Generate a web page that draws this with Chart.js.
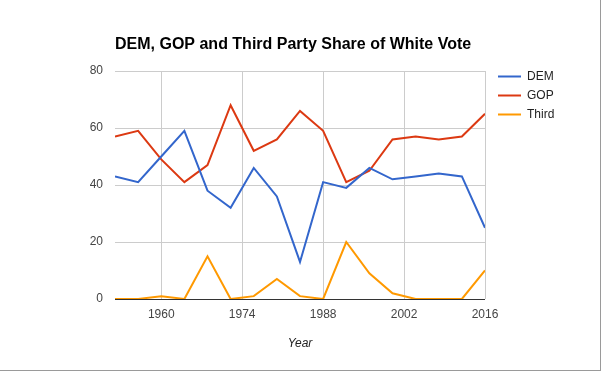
<!DOCTYPE html>
<html>
<head>
<meta charset="utf-8">
<script src="https://cdn.jsdelivr.net/npm/chart.js@4"></script>
<style>
  html, body { margin: 0; padding: 0; background: #fff; }
  #wrap { position: relative; width: 603px; height: 372px; overflow: hidden; }
  #frame { position: absolute; left: -2px; top: -2px; width: 602px; height: 372px; border-right: 1px solid #9a9a9a; border-bottom: 1px solid #9a9a9a; pointer-events: none; }
</style>
</head>
<body>
<div id="wrap">
  <canvas id="c" width="603" height="372"></canvas>
  <div id="frame"></div>
</div>
<script>
const chartTitle = "DEM, GOP and Third Party Share of White Vote";
const xAxisTitle = "Year";
const years = [1952, 1956, 1960, 1964, 1968, 1972, 1976, 1980, 1984, 1988, 1992, 1996, 2000, 2004, 2008, 2012, 2016];
const demValues = [43, 41, 50, 59, 38, 32, 46, 36, 13, 41, 39, 46, 42, 43, 44, 43, 25];
const gopValues = [57, 59, 49, 41, 47, 68, 52, 56, 66, 59, 41, 45, 56, 57, 56, 57, 65];
const thirdValues = [0, 0, 1, 0, 15, 0, 1, 7, 1, 0, 20, 9, 2, 0, 0, 0, 10];
const seriesNames = ["DEM", "GOP", "Third"];
const seriesColors = ["#3366cc", "#dc3912", "#ff9900"];
const xTickValues = [1960, 1974, 1988, 2002, 2016];
const yTickValues = [0, 20, 40, 60, 80];

const FONT = "'Liberation Sans', Arial, sans-serif";

function toPoints(vals) { return years.map((y, i) => ({ x: y, y: vals[i] })); }
const seriesValues = [demValues, gopValues, thirdValues];

const customDecor = {
  id: 'customDecor',
  afterDraw(chart) {
    const ctx = chart.ctx;
    const area = chart.chartArea;
    ctx.save();
    // title
    ctx.font = "bold 16px " + FONT;
    ctx.fillStyle = "#000";
    ctx.textBaseline = "middle";
    ctx.textAlign = "left";
    ctx.fillText(chartTitle, area.left, 45);
    // legend
    ctx.font = "12px " + FONT;
    ctx.fillStyle = "#222";
    chart.data.datasets.forEach((ds, i) => {
      const y = 76.5 + i * 19;
      ctx.strokeStyle = ds.borderColor;
      ctx.lineWidth = 2;
      ctx.beginPath();
      ctx.moveTo(498, y);
      ctx.lineTo(521, y);
      ctx.stroke();
      ctx.fillText(ds.label, 527, y);
    });
    ctx.restore();
  }
};

new Chart(document.getElementById('c'), {
  type: 'line',
  data: {
    datasets: seriesNames.map((n, i) => ({
      label: n,
      data: toPoints(seriesValues[i]),
      borderColor: seriesColors[i],
      backgroundColor: seriesColors[i],
      borderWidth: 2,
      pointRadius: 0,
      tension: 0,
      fill: false
    }))
  },
  options: {
    responsive: false,
    animation: false,
    devicePixelRatio: 1,
    layout: { padding: { left: 0, top: 71, right: 118, bottom: 0 } },
    plugins: {
      legend: { display: false },
      title: { display: false },
      tooltip: { enabled: false }
    },
    scales: {
      x: {
        type: 'linear',
        min: years[0],
        max: years[years.length - 1],
        afterBuildTicks: s => { s.ticks = xTickValues.map(v => ({ value: v })); },
        afterFit: s => { s.height = 73; },
        grid: { color: '#cccccc', drawTicks: false, lineWidth: 1 },
        border: { display: false },
        ticks: {
          padding: 8,
          color: '#444',
          font: { family: FONT, size: 12 },
          maxRotation: 0,
          autoSkip: false,
          callback: v => String(v)
        },
        title: {
          display: true,
          text: xAxisTitle,
          color: '#222',
          font: { family: FONT, size: 12, style: 'italic' },
          padding: { top: 0, bottom: 21 }
        }
      },
      y: {
        min: 0,
        max: 80,
        afterBuildTicks: s => { s.ticks = yTickValues.map(v => ({ value: v })); },
        afterFit: s => { s.width = 115; },
        grid: {
          color: c => (c.tick && c.tick.value === 0) ? '#333333' : '#cccccc',
          drawTicks: false,
          lineWidth: 1
        },
        border: { display: false },
        ticks: {
          padding: 12,
          color: '#444',
          font: { family: FONT, size: 12 }
        }
      }
    }
  },
  plugins: [customDecor]
});
</script>
</body>
</html>
